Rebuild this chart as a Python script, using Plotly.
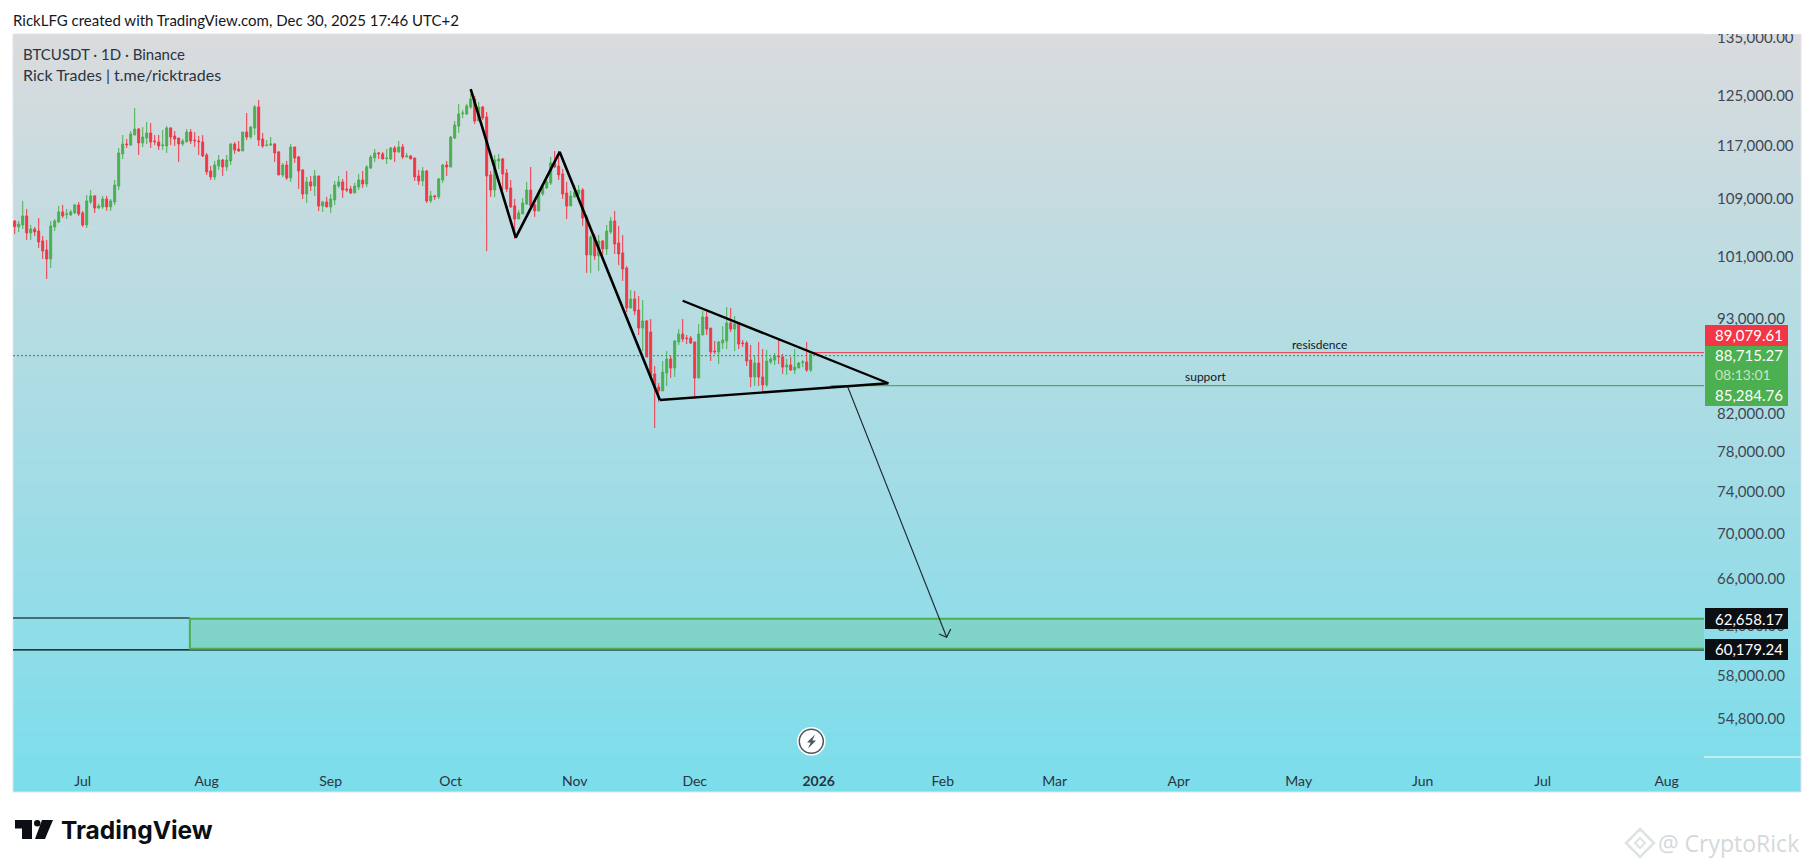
import pandas as pd
import plotly.graph_objects as go

# ---------- data ----------
dates = pd.date_range("2025-06-14", periods=200, freq="D")

opens = [
 105870,105040,105310,106580,104210,104760,104480,103110,101890,100680,
 105040,105730,107150,106770,106720,107010,108140,107010,105310,108570,
 109440,107710,107860,109000,107860,108570,110890,115690,117220,117070,
 118620,119570,117380,118150,118940,117690,117530,116960,116910,119730,
 118470,118150,117220,117530,119090,117840,117690,117530,115530,113110,
 112220,113860,114770,113710,114620,117220,116450,116150,119090,118310,
 119730,123110,118000,116960,117070,117220,116000,112520,114010,112070,
 116760,115230,113260,109720,111490,110890,112370,108000,108570,107860,
 108860,110890,111490,110450,110450,109870,110740,111780,111190,113560,
 115080,115840,115690,114970,114920,116610,116000,116760,115230,115380,
 115080,112370,111630,113110,108720,109440,109290,111780,114010,113710,
 118150,120040,122020,121970,123110,124410,120840,123110,121490,112520,
 110300,114620,114920,112810,110600,108000,106150,106870,108290,110300,
 108140,107290,109720,110600,111340,114320,113860,112670,109870,108000,
 109290,109720,110300,106440,101220,103660,101090,103110,102030,104350,
 105870,102840,101490,99490,94360,95490,94110,91890,92760,91410,
 86470,85000,84560,86580,88210,87160,90210,91170,90690,90690,
 90210,86020,91050,93250,91890,89140,89030,90090,90330,92510,
 91770,92510,90090,90090,88090,86130,87740,86130,85230,87860,
 88090,88560,88440,87270,87510,86930,87160,87780,87860,86930]

highs = [
 106010,105870,108720,107570,105310,105040,106290,103800,103250,105870,
 106150,108000,108140,107570,107430,108290,108570,107290,109580,110300,
 109580,108290,109440,109440,109000,111780,116610,118620,118000,119250,
 122950,119730,119880,120680,120520,118620,118620,119410,120040,119880,
 119250,118150,118000,119570,119570,119090,118470,118620,115840,113860,
 114620,115530,114920,115530,117380,117530,117690,119090,122130,120040,
 123430,124250,118940,117840,118310,117380,116150,114320,114620,117220,
 116760,115380,113410,112220,112370,113260,112370,108720,109290,109720,
 111630,112370,111930,113110,110890,111340,112670,113110,114010,115530,
 116450,116000,116000,116450,116760,116910,117690,117220,115840,115530,
 115080,113260,113710,113260,110160,109580,112070,114170,114620,118470,
 120840,123600,122620,123600,125240,124910,123920,123270,122290,113110,
 115530,115690,115080,113410,111780,109000,107430,109150,111490,113710,
 108860,110300,111040,111780,115230,116150,116150,113410,111490,110160,
 111040,111040,110600,106720,103930,104070,103930,103250,105310,106440,
 107290,105180,103930,99760,96640,96510,95870,95360,92880,93000,
 87390,85450,87970,89140,88560,90450,91770,93000,91050,90930,
 90210,92390,93990,93860,91890,90330,90330,92130,94490,94360,
 93370,92630,90450,90330,89850,88560,90210,89380,89260,88440,
 88910,90450,88790,88210,88440,89380,87860,88090,90210,89140]

lows = [
 104070,104350,104760,103250,103250,103800,102160,100680,98060,99490,
 104480,105590,106290,106150,106580,106870,106580,105040,104900,108290,
 107010,107570,107570,107290,107290,108140,110300,114920,116610,116910,
 118620,115530,116760,117220,116610,117070,116300,116300,115840,117070,
 116910,114470,116910,117530,117220,116760,115530,115230,112520,111780,
 111780,113260,112370,113110,114010,115690,116000,116150,117840,118000,
 118620,116910,116610,116910,116910,114470,112520,112220,111780,111490,
 114320,110450,109000,108430,110160,109440,107290,107150,107860,107010,
 108140,110600,109150,110010,109720,109870,110300,110600,110740,113410,
 114470,114920,114920,114170,114770,114470,115840,114920,115230,114920,
 111630,111040,110890,108430,108430,108860,109000,111340,112370,113710,
 118000,118940,121320,121810,122780,120360,120840,121000,101750,109290,
 109290,113410,110300,110010,107710,103390,106150,106870,108140,107430,
 106440,107290,109440,110450,111040,113560,111780,109000,106150,108000,
 109150,108860,105180,98840,98840,100550,99100,101220,101220,104070,
 101350,99890,97800,93860,94360,93490,91050,89140,88440,85790,
 80510,83330,84560,85120,86020,86130,89850,90210,89970,89970,
 83660,86020,91050,91050,87970,88790,87620,89380,89380,91410,
 89140,89380,89620,87390,85000,85120,85120,84330,85000,87620,
 87510,87620,86470,86360,86820,86470,87160,87270,86700,86700]

closes = [
 105080,105450,106580,104210,104760,104350,102980,101750,100680,105180,
 105870,107150,106580,106870,107150,108140,106870,105310,108720,109440,
 107710,108000,109000,107860,108720,111040,115840,117220,117120,118780,
 119570,117380,118310,118940,117530,117580,116910,117070,119730,118310,
 118000,117220,117690,119090,117690,117730,117580,115380,112960,112220,
 114010,114770,113710,114770,117220,116300,116150,119090,118310,119880,
 123110,117840,116910,117070,117220,115840,112520,114010,112070,116760,
 115080,113110,109720,111490,110890,112370,108000,108570,107860,109000,
 111040,111490,110300,110300,109870,110890,111780,111190,113710,115230,
 115840,115730,114920,115080,116610,116000,116760,115230,115380,114920,
 112220,111630,113110,108720,109440,109340,111930,114010,113710,118310,
 120200,121970,122130,123270,124410,120840,123110,121320,112370,110300,
 114770,114920,112670,110450,107860,106150,107010,108430,110300,108000,
 107290,109870,110740,111490,114320,113710,112520,109720,108000,109440,
 110010,110300,106290,101220,103660,101090,103110,102030,104480,105870,
 102700,101350,99360,94360,95490,93990,91890,92760,88440,86240,
 84890,84560,86700,88210,87160,90330,91170,90570,90610,90090,
 86020,91170,93250,91770,89030,89060,90210,90450,92510,91770,
 92390,89970,90050,87970,86130,87740,86130,85230,87970,88210,
 88560,88480,87270,87510,86930,87270,87740,87860,86930,88715.27]

price_ticks = [135000,125000,117000,109000,101000,93000,82000,78000,74000,70000,66000,62000,58000,54800]
month_ticks = ["2025-07-01","2025-08-01","2025-09-01","2025-10-01","2025-11-01","2025-12-01","2026-01-01",
               "2026-02-01","2026-03-01","2026-04-01","2026-05-01","2026-06-01","2026-07-01","2026-08-01"]
month_labels = ["Jul","Aug","Sep","Oct","Nov","Dec","<b>2026</b>","Feb","Mar","Apr","May","Jun","Jul","Aug"]

zigzag_x = ["2025-10-06","2025-10-17 06:00","2025-10-28 06:00","2025-11-22 07:00"]
zigzag_y = [126060,103560,116000,83550]
tri_x = ["2025-11-22 07:00","2026-01-18 10:00","2025-11-28"]
tri_y = [83550,85420,95270]
arrow_x = ["2026-01-08 06:00","2026-02-02"]
arrow_y = [85030,61040]

# levels as they lie on the picture's price scale
last_price_line = 88600
resistance_line = 88950
support_line = 85150
zone_top_line = 62560
zone_bottom_line = 60120
black_top_line = 62620
black_bottom_line = 60040

# ---------- layout helpers ----------
W, H = 1814, 868
L, R, T, B = 13, 1704, 34, 757
PANEL_R, PANEL_B = 1801, 792
AX_LEFT, AX_RIGHT = "2025-06-13 13:48", "2026-08-10 07:48"
GREEN, RED = "#4CAF50", "#F23645"
FONT = "Lato"
TXT = "#3F4753"

def X(px): return (px - L) / (R - L)
def Y(py): return 1 - (py - T) / (B - T)
def path(pts, close=True):
    s = " ".join(("M" if i == 0 else "L") + f"{X(a):.5f},{Y(b):.5f}" for i, (a, b) in enumerate(pts))
    return s + (" Z" if close else "")

shapes, annos = [], []

# background gradient of the panel, each band running to the bottom so no seams show
top_c, bot_c = (218, 219, 221), (123, 221, 235)
N = 190
for i in range(N):
    t = i / (N - 1)
    c = tuple(round(a + (b - a) * t) for a, b in zip(top_c, bot_c))
    py = T + (PANEL_B - T) * i / N
    shapes.append(dict(type="rect", xref="paper", yref="paper", layer="below", line_width=0,
                       x0=X(L), x1=X(PANEL_R), y0=Y(py), y1=Y(PANEL_B), fillcolor=f"rgb{c}"))
shapes.append(dict(type="rect", xref="paper", yref="paper", layer="below",
                   line=dict(color="#E0E3EB", width=1), x0=X(L), x1=X(PANEL_R), y0=Y(T), y1=Y(PANEL_B)))
# axis separator
shapes.append(dict(type="line", xref="paper", yref="paper", layer="above", line=dict(color="white", width=1),
                   x0=X(R), x1=X(PANEL_R), y0=Y(B), y1=Y(B)))

def box(x0, x1, y0, y1, color):
    shapes.append(dict(type="rect", xref="paper", yref="paper", layer="above", line_width=0,
                       x0=X(x0), x1=X(x1), y0=Y(y0), y1=Y(y1), fillcolor=color))
box(1704, W, 0, 34, "white")   # the top tick label is cut off by the panel edge
box(1705, 1788, 325, 346, RED)
box(1705, 1788, 346, 406, GREEN)
box(1705, 1788, 608, 629, "#0B0E13")
box(1705, 1788, 639, 660, "#0B0E13")

def note(text, px, py, size=14, color=TXT, anchor="left", family=FONT, weight="normal"):
    annos.append(dict(text=text, xref="paper", yref="paper", x=X(px), y=Y(py), showarrow=False,
                      xanchor=anchor, yanchor="middle", borderpad=0, borderwidth=0,
                      font=dict(family=family, size=size, color=color, weight=weight)))

note("89,079.61", 1715, 335, size=15, color="white")
note("88,715.27", 1715, 355, size=15, color="white")
note("08:13:01", 1715, 374, size=14, color="#C6E5C8")
note("85,284.76", 1715, 395, size=15, color="white")
note("62,658.17", 1715, 618.7, size=15, color="white")
note("60,179.24", 1715, 649.3, size=15, color="white")
note("RickLFG created with TradingView.com, Dec 30, 2025 17:46 UTC+2", 13, 20, size=15, color="#131722")
note("BTCUSDT · 1D · Binance", 23, 53.5, size=15, color="#2B3440")
note("Rick Trades | t.me/ricktrades", 23, 74.7, size=16, color="#2B3440")
note("resisdence", 1319, 344, size=12, color="#131722", anchor="center")
note("support", 1206, 376, size=12, color="#131722", anchor="center")
note("TradingView", 61, 829.5, size=24.5, color="#0B0E13", family="Inter", weight=700)
note("@ CryptoRick", 1658, 843, size=23, color="#D3D9DB", family="Open Sans")

# arrow head
shapes.append(dict(type="path", xref="paper", yref="paper", layer="above",
                   path=path([(939, 634), (946.7, 637.3), (950.7, 629)], close=False),
                   line=dict(color="#1B2530", width=1.2)))
# lightning badge
shapes.append(dict(type="circle", xref="paper", yref="paper", layer="above", fillcolor="white", line_width=0,
                   x0=X(797), x1=X(825.6), y0=Y(727), y1=Y(755.6)))
shapes.append(dict(type="circle", xref="paper", yref="paper", layer="above", fillcolor="white",
                   line=dict(color="#4A5560", width=1.5), x0=X(799.3), x1=X(823.3), y0=Y(729.3), y1=Y(753.3)))
shapes.append(dict(type="path", xref="paper", yref="paper", layer="above", fillcolor="#4A5560", line_width=0,
                   path=path([(815, 734.5), (807, 742.5), (810.7, 742.5), (808, 748.5), (816, 740.5), (812.3, 740.5)])))
# TradingView logo
for pts in ([(15, 820), (32, 820), (32, 839), (22, 839), (22, 828.5), (15, 828.5)],
            [(42, 820), (53, 820), (45, 839), (35, 839)]):
    shapes.append(dict(type="path", xref="paper", yref="paper", layer="above", fillcolor="#0B0E13", line_width=0, path=path(pts)))
shapes.append(dict(type="circle", xref="paper", yref="paper", layer="above", fillcolor="#0B0E13", line_width=0,
                   x0=X(34), x1=X(40.5), y0=Y(820), y1=Y(826.5)))
# faint Binance-style diamond beside the watermark
shapes.append(dict(type="path", xref="paper", yref="paper", layer="above", line=dict(color="#DDE2E3", width=2.5),
                   path=path([(1640, 829), (1654, 843), (1640, 857), (1626, 843)])))
shapes.append(dict(type="path", xref="paper", yref="paper", layer="above", line=dict(color="#DDE2E3", width=2),
                   path=path([(1640, 838), (1645, 843), (1640, 848), (1635, 843)])))

# ---------- figure ----------
fig = go.Figure()

def segment(x, y, color, width, dash="solid"):
    fig.add_trace(go.Scatter(x=x, y=y, mode="lines", hoverinfo="skip", showlegend=False,
                             line=dict(color=color, width=width, dash=dash)))

# zone and levels
zone_left = "2025-07-27 19:00"
fig.add_trace(go.Scatter(x=[zone_left, AX_RIGHT, AX_RIGHT, zone_left],
                         y=[zone_top_line, zone_top_line, zone_bottom_line, zone_bottom_line],
                         mode="lines", line=dict(width=0), fill="toself", fillcolor="rgba(76,175,80,0.2)",
                         hoverinfo="skip", showlegend=False))
segment([AX_LEFT, zone_left], [black_top_line, black_top_line], "#000000", 1)
segment([AX_LEFT, AX_RIGHT], [black_bottom_line, black_bottom_line], "#000000", 1.2)
segment([AX_RIGHT, zone_left, zone_left, AX_RIGHT],
        [zone_top_line, zone_top_line, zone_bottom_line, zone_bottom_line], GREEN, 2)
segment([AX_LEFT, AX_RIGHT], [last_price_line, last_price_line], "#3FA845", 1.3, dash="2px,2px")
segment(["2025-12-29 12:00", AX_RIGHT], [resistance_line, resistance_line], RED, 1)
segment(["2026-01-04", AX_RIGHT], [support_line, support_line], GREEN, 1.2)

fig.add_trace(go.Candlestick(
    x=dates, open=opens, high=highs, low=lows, close=closes, showlegend=False, hoverinfo="skip",
    increasing=dict(line=dict(color=GREEN, width=1), fillcolor=GREEN),
    decreasing=dict(line=dict(color=RED, width=1), fillcolor=RED),
    whiskerwidth=0))

segment(zigzag_x, zigzag_y, "#000000", 2.6)
segment(tri_x[:2], tri_y[:2], "#000000", 2.4)
segment(tri_x[1:], tri_y[1:], "#000000", 2.4)
segment(arrow_x, arrow_y, "#1B2530", 1.1)

fig.update_layout(
    width=W, height=H, paper_bgcolor="white", plot_bgcolor="rgba(0,0,0,0)", showlegend=False,
    margin=dict(l=L, r=W - R, t=T, b=H - B, autoexpand=False),
    shapes=shapes, annotations=annos, hovermode=False,
    xaxis=dict(type="date", range=[AX_LEFT, AX_RIGHT], rangeslider=dict(visible=False), showgrid=False, zeroline=False,
               showline=False, tickmode="array", tickvals=month_ticks, ticktext=month_labels, ticks="outside",
               ticklen=11, tickcolor="rgba(0,0,0,0)", tickangle=0, automargin=False,
               tickfont=dict(family=FONT, size=14, color="#2B3440")),
    yaxis=dict(type="log", range=[4.71686, 5.13220], side="right", showgrid=False, zeroline=False, showline=False,
               tickmode="array", tickvals=price_ticks, ticktext=[f"{v:,.2f}" for v in price_ticks], ticks="outside",
               ticklen=9, tickcolor="rgba(0,0,0,0)", automargin=False,
               tickfont=dict(family=FONT, size=15, color=TXT)),
)

fig.write_html("out.html", config=dict(displayModeBar=False),
               post_script="document.body.style.margin='0';document.body.style.overflow='hidden';")
